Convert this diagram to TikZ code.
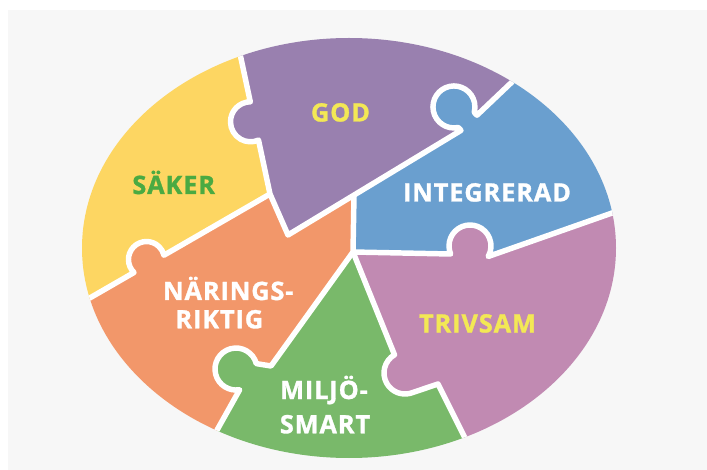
\documentclass[tikz,border=0pt]{standalone}
\usepackage{fontspec}
\newfontfamily\labelfont{Open Sans}[LetterSpace=3.5, FakeBold=1.2]
\usepackage{tikz}

\begin{document}
\begin{tikzpicture}[x=0.75pt,y=0.75pt,yscale=-1,xscale=1,
  yellowpiece/.style={fill={rgb, 255:red, 253; green, 214; blue, 98 }},
  purplepiece/.style={fill={rgb, 255:red, 153; green, 128; blue, 175 }},
  bluepiece/.style={fill={rgb, 255:red, 106; green, 159; blue, 207 }},
  pinkpiece/.style={fill={rgb, 255:red, 193; green, 138; blue, 178 }},
  greenpiece/.style={fill={rgb, 255:red, 121; green, 185; blue, 106 }},
  orangepiece/.style={fill={rgb, 255:red, 242; green, 151; blue, 106 }},
  cutline/.style={draw=white, line width=4.1pt, line join=round},
  piecelabel/.style={font=\labelfont\bfseries\fontsize{19}{21}\selectfont, text=white, anchor=base, inner sep=0pt}
]
\useasboundingbox (0,0) rectangle (707,470);

%Shape: Rectangle [page]
\path[fill=white] (0,0) rectangle (707,470);
\path[fill={rgb, 255:red, 247; green, 247; blue, 247 }] (8,10) rectangle (707,470);

\begin{scope}
\clip (349,248) ellipse [x radius=267, y radius=210];

%Shape: Polygon [yellow piece]
\path[yellowpiece] (234.9,30) -- (250.3,101.8) -- (258.5,140.1) -- (270,194) -- (164,255.2) -- (134,272.5) -- (70.7,309) -- (50,320) -- (50,20) -- (232,20) -- cycle;
%Shape: Polygon [purple piece]
\path[purplepiece] (234.9,30) -- (250.3,101.8) -- (258.5,140.1) -- (270,194) -- (288,235) -- (354,195.1) -- (461,130.4) -- (458.3,127.5) -- (474.3,112.4) -- (477,115.2) -- (527.8,67) -- (545,50) -- (545,10) -- (233,10) -- cycle;
%Shape: Polygon [blue piece]
\path[bluepiece] (354,195.1) -- (461,130.4) -- (458.3,127.5) -- (474.3,112.4) -- (477,115.2) -- (527.8,67) -- (560,40) -- (660,40) -- (660,196) -- (640,203.2) -- (488.2,256.5) -- (450.6,254) -- (353,252) -- cycle;
%Shape: Polygon [pink piece]
\path[pinkpiece] (353,252) -- (450.6,254) -- (488.2,256.5) -- (640,203.2) -- (660,196) -- (660,470) -- (480,470) -- (472,452) -- (438,384) -- (410.4,393.3) -- (394.5,354.8) -- cycle;
%Shape: Polygon [green piece]
\path[greenpiece] (353,252) -- (394.5,354.8) -- (410.4,393.3) -- (438,384) -- (472,452) -- (480,470) -- (200,470) -- (207,448) -- (239.6,389.7) -- (256.3,363.6) -- (271,366) -- cycle;
%Shape: Polygon [orange piece]
\path[orangepiece] (270,194) -- (288,235) -- (354,195.1) -- (353,252) -- (271,366) -- (256.3,363.6) -- (239.6,389.7) -- (207,448) -- (200,470) -- (40,470) -- (40,320) -- (70.7,309) -- (134,272.5) -- (164,255.2) -- cycle;

%Shape: Circle [knobs]
\path[purplepiece] (250.5,121.8) circle [radius=20];
\path[orangepiece] (146.5,259.5) circle [radius=18];
\path[bluepiece] (454,107) circle [radius=21];
\path[greenpiece] (236,369) circle [radius=21];
\path[pinkpiece] (470,246) circle [radius=21];
\path[pinkpiece] (405,373) circle [radius=21];

%Straight Lines [cuts between the pieces]
\draw[cutline] (234.9,30) -- (250.3,101.8) arc [start angle=269.44, end angle=66.36, radius=20] -- (270,194) -- (288,235) -- (354,195.1) -- (461,130.4) -- (458.3,127.5) arc [start angle=78.07, end angle=374.93, radius=21] -- (477,115.2) -- (527.8,67);
\draw[cutline] (70.7,309) -- (134,272.5) arc [start angle=133.87, end angle=346.13, radius=18] -- (270,194);
\draw[cutline] (354,195.1) -- (353,252) -- (271,366) -- (256.3,363.6) arc [start angle=345, end angle=80, radius=21] -- (207,448);
\draw[cutline] (353,252) -- (450.6,254) arc [start angle=157.6, end angle=390, radius=21] -- (640,203.2);
\draw[cutline] (353,252) -- (394.5,354.8) arc [start angle=240, end angle=75, radius=21] -- (438,384) -- (472,452);
\end{scope}

%Text labels
\node[piecelabel, text={rgb, 255:red, 243; green, 232; blue, 85 }] (god) at (340.5,121.5) {GOD};
\node[piecelabel, text={rgb, 255:red, 74; green, 170; blue, 66 }] (saker) at (173.7,194) {SÄKER};
\node[piecelabel] (integrerad) at (487,201.5) {INTEGRERAD};
\node[piecelabel, text={rgb, 255:red, 243; green, 232; blue, 85 }] (trivsam) at (477.5,332.5) {TRIVSAM};
\node[piecelabel] (naring) at (228.3,300) {NÄRINGS-};
\node[piecelabel] (riktig) at (219.3,328.3) {RIKTIG};
\node[piecelabel] (miljo) at (324,399) {MILJÖ-};
\node[piecelabel] (smart) at (325,433.3) {SMART};

\end{tikzpicture}
\end{document}
